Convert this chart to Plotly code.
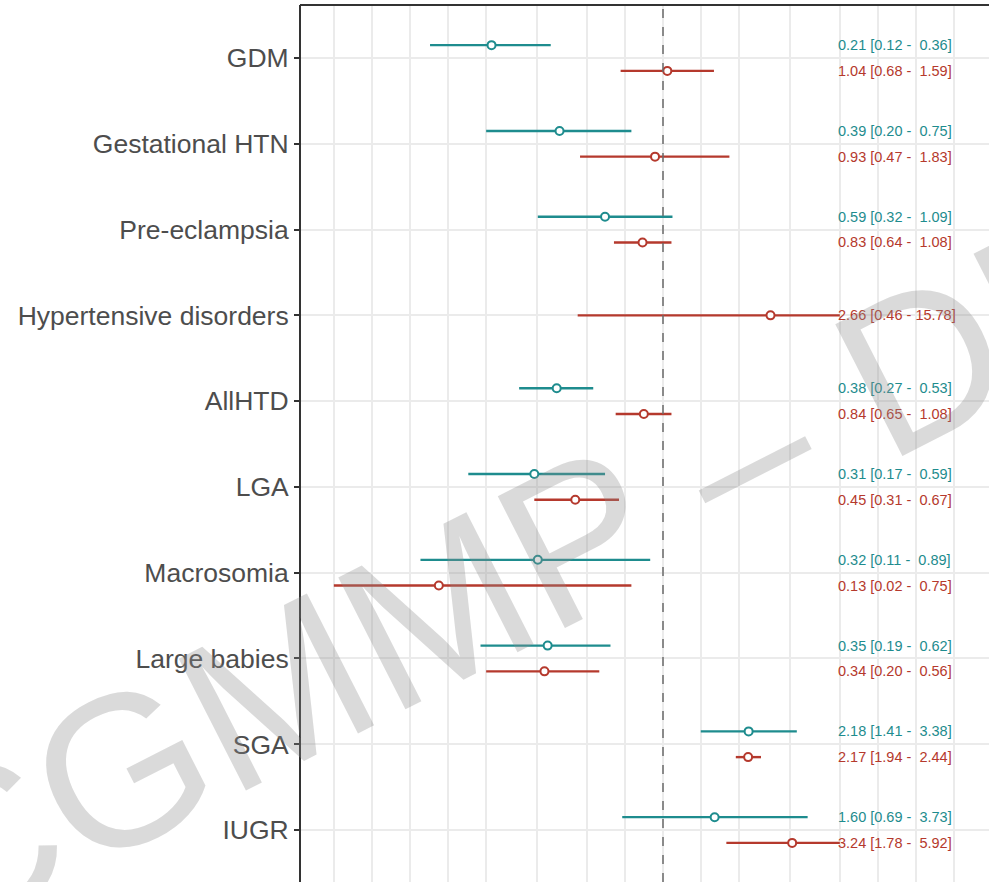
import plotly.graph_objects as go
import numpy as np

categories = ["GDM", "Gestational HTN", "Pre-eclampsia", "Hypertensive disorders",
              "AllHTD", "LGA", "Macrosomia", "Large babies", "SGA", "IUGR"]

# teal series (None = not reported)
teal_or = [0.21, 0.39, 0.59, None, 0.38, 0.31, 0.32, 0.35, 2.18, 1.60]
teal_lo = [0.12, 0.20, 0.32, None, 0.27, 0.17, 0.11, 0.19, 1.41, 0.69]
teal_hi = [0.36, 0.75, 1.09, None, 0.53, 0.59, 0.89, 0.62, 3.38, 3.73]

# red series
red_or = [1.04, 0.93, 0.83, 2.66, 0.84, 0.45, 0.13, 0.34, 2.17, 3.24]
red_lo = [0.68, 0.47, 0.64, 0.46, 0.65, 0.31, 0.02, 0.20, 1.94, 1.78]
red_hi = [1.59, 1.83, 1.08, 15.78, 1.08, 0.67, 0.75, 0.56, 2.44, 5.92]

major_ticks = [0.05, 0.1, 0.2, 0.5, 1, 2, 5, 10, 20]
clip_lo, clip_hi = 0.05, 5.0
label_x = 5.0

TEAL = "#1E8C8E"
RED = "#B5392D"

fig = go.Figure()

def add_series(ors, los, his, color, offsets):
    xs, ys, em, ep, txt, tys = [], [], [], [], [], []
    for i, (o, l, h) in enumerate(zip(ors, los, his)):
        if o is None:
            continue
        y = -i + offsets[i]
        xs.append(o)
        ys.append(y)
        em.append(o - max(l, clip_lo))
        ep.append(min(h, clip_hi) - o)
        hs = f"{h:5.2f}".replace(" ", "\u00a0")
        txt.append(f"{o:.2f} [{l:.2f} -\u00a0{hs}]")
        tys.append(y)
    fig.add_trace(go.Scatter(
        x=xs, y=ys, mode="markers",
        marker=dict(symbol="circle", size=8, color="white",
                    line=dict(color=color, width=2)),
        error_x=dict(type="data", symmetric=False, array=ep, arrayminus=em,
                     color=color, thickness=2.4, width=0),
        showlegend=False, cliponaxis=False, hoverinfo="skip"))
    for t, y in zip(txt, tys):
        fig.add_annotation(x=np.log10(label_x), y=y, xref="x", yref="y",
                           text=t, showarrow=False, xanchor="left", yanchor="middle",
                           xshift=-4,
                           font=dict(family="Liberation Sans, Arial", size=14.5, color=color))

n_both = [(t is not None) for t in teal_or]
teal_off = [0.15 for _ in categories]
red_off = [(-0.15 if b else 0.0) for b in n_both]

add_series(teal_or, teal_lo, teal_hi, TEAL, teal_off)
add_series(red_or, red_lo, red_hi, RED, red_off)

minor_ticks = [float(np.sqrt(a * b)) for a, b in zip(major_ticks[:-1], major_ticks[1:])]

fig.add_vline(x=1, line=dict(color="#6b6b6b", width=1.5, dash="dash"))

# watermark (centre given in window pixels, converted to paper coords)
wm_cx, wm_cy = 700, 475
fig.add_annotation(x=(wm_cx - 300) / 689, y=1 - (wm_cy - 5) / 877, xref="paper", yref="paper",
                   text="CGMMP \u2013 DRAFT", showarrow=False, textangle=-27,
                   xanchor="center", yanchor="middle",
                   font=dict(family="Liberation Sans, Arial", size=215,
                             color="rgba(140,140,140,0.32)"))

# panel border (left and top visible)
fig.add_shape(type="line", xref="paper", yref="paper", x0=0, x1=1, y0=1, y1=1,
              line=dict(color="#333333", width=2))
fig.add_shape(type="line", xref="paper", yref="paper", x0=0, x1=0, y0=0, y1=1,
              line=dict(color="#333333", width=2))

fig.update_layout(
    width=989, height=882,
    margin=dict(l=300, r=0, t=5, b=0, autoexpand=False),
    paper_bgcolor="white", plot_bgcolor="white",
    font=dict(family="Liberation Sans, Arial"),
    xaxis=dict(type="log", range=[-(663 - 300) / 253, (989 - 663) / 253],
               tickvals=major_ticks, showticklabels=False, automargin=False,
               showgrid=True, gridcolor="#EBEBEB", gridwidth=1.6,
               minor=dict(tickvals=minor_ticks, showgrid=True,
                          gridcolor="#EBEBEB", gridwidth=1.6),
               zeroline=False, showline=False, ticks=""),
    yaxis=dict(range=[0.618 - 877 / 85.78, 0.618], automargin=False,
               tickvals=[-i for i in range(len(categories))],
               ticktext=categories, showgrid=True, gridcolor="#EBEBEB", gridwidth=1.6,
               zeroline=False, ticks="outside", ticklen=5, tickwidth=1.5,
               tickcolor="#333333",
               tickfont=dict(family="Liberation Sans, Arial", size=26.5, color="#4D4D4D")),
)

fig.write_html("out.html", config={"displayModeBar": False},
               post_script="document.body.style.margin='0';document.body.style.overflow='hidden';")
